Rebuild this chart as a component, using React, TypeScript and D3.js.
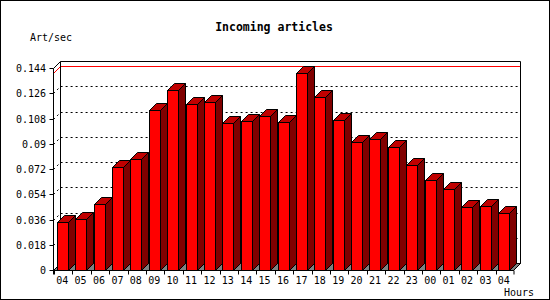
import React from "react";
import * as d3 from "d3";

const hours = ["04","05","06","07","08","09","10","11","12","13","14","15","16","17","18","19","20","21","22","23","00","01","02","03","04"];
const rates = [0.034,0.0361,0.0468,0.0734,0.0789,0.1141,0.1283,0.1181,0.1196,0.1048,0.1062,0.1098,0.1055,0.1402,0.1231,0.1069,0.091,0.0932,0.0875,0.0746,0.0639,0.0575,0.0447,0.0454,0.0404];
const yTicks = [0,0.018,0.036,0.054,0.072,0.09,0.108,0.126,0.144];
const yTickLabels = ["0","0.018","0.036","0.054","0.072","0.09","0.108","0.126","0.144"];

const W = 550, H = 300;
const FX0 = 53.5, FX1 = 513.5, FY0 = 270.5, FTOP = 68.5, D = 7;
const MONO = "'DejaVu Sans Mono', monospace";

export default function App() {
  const x = d3.scaleBand<number>().domain(d3.range(hours.length)).range([54, 514]).paddingInner(0).paddingOuter(0);
  const y = d3.scaleLinear().domain([0, 0.144]).range([270, 68]);
  const bw = x.bandwidth();
  const maxV = d3.max(rates) as number;
  const yMax = Math.round(y(maxV)) + 0.5;

  const bars = rates.map((v, i) => {
    const x0 = Math.round((x(i) as number) + 2.7) + 0.5;
    const x1 = x0 + 11;
    const yt = Math.round(y(v)) + 0.5;
    return { x0, x1, yt, i };
  });

  return (
    <svg width={W} height={H} style={{ position: "absolute", left: 0, top: 0, background: "#fff" }}>
      <rect x={0.5} y={0.5} width={W - 1} height={H - 1} fill="#fff" stroke="#000" />
      <text x={274} y={27} textAnchor="middle" dominantBaseline="central" fontFamily={MONO} fontWeight="bold" fontSize={11.5}>Incoming articles</text>
      <text x={30} y={37} dominantBaseline="central" fontFamily={MONO} fontSize={10}>Art/sec</text>
      <text x={504} y={292} dominantBaseline="central" fontFamily={MONO} fontSize={10}>Hours</text>

      {/* floor */}
      <polygon points={`${FX0},${FY0} ${FX0 + D},${FY0 - D} ${FX1 + D},${FY0 - D} ${FX1},${FY0}`} fill="#808080" stroke="#000" />

      {/* grid lines */}
      {yTicks.slice(1, -1).map((t, k) => {
        const yy = Math.round(y(t)) + 0.5;
        return (
          <path key={k} d={`M${FX0},${yy}L${FX0 + D},${yy - D}L${FX1 + D},${yy - D}`} fill="none" stroke="#000" strokeDasharray="2,3" />
        );
      })}
      {/* max line */}
      <path d={`M${FX0},${yMax}L${FX0 + D},${yMax - D}L${FX1 + D},${yMax - D}`} fill="none" stroke="#ff0000" />

      {/* frame */}
      <path d={`M${FX0},${FTOP}L${FX0 + D},${FTOP - D}L${FX1 + D},${FTOP - D}L${FX1 + D},${FY0 - D}L${FX1},${FY0}`} fill="none" stroke="#000" />
      <path d={`M${FX0 + D},${FTOP - D}L${FX0 + D},${FY0 - D}`} fill="none" stroke="#000" />

      {/* bars */}
      {bars.map(b => (
        <g key={b.i} stroke="#000" strokeLinejoin="miter">
          <polygon points={`${b.x1},${b.yt} ${b.x1 + D},${b.yt - D} ${b.x1 + D},${FY0 - D} ${b.x1},${FY0}`} fill="#800000" />
          <polygon points={`${b.x0},${b.yt} ${b.x0 + D},${b.yt - D} ${b.x1 + D},${b.yt - D} ${b.x1},${b.yt}`} fill="#c00000" />
          <rect x={b.x0} y={b.yt} width={11} height={FY0 - b.yt} fill="#ff0000" />
        </g>
      ))}

      {/* axes */}
      <line x1={FX0} y1={FTOP} x2={FX0} y2={FY0 + 4} stroke="#000" />
      <line x1={FX0} y1={FY0} x2={FX1} y2={FY0} stroke="#000" />
      {yTicks.map((t, k) => {
        const yy = Math.round(y(t)) + 0.5;
        return (
          <g key={k}>
            <line x1={FX0 - 4} y1={yy} x2={FX0} y2={yy} stroke="#000" />
            <text x={46} y={yy} textAnchor="end" dominantBaseline="central" fontFamily={MONO} fontSize={10}>{yTickLabels[k]}</text>
          </g>
        );
      })}
      {hours.map((h, i) => {
        const xx = Math.round((x(i) as number)) + 0.5;
        return (
          <g key={i}>
            <line x1={xx} y1={FY0} x2={xx} y2={FY0 + 4} stroke="#000" />
            <text x={(x(i) as number) + bw / 2 - 1} y={280} textAnchor="middle" dominantBaseline="central" fontFamily={MONO} fontSize={10}>{h}</text>
          </g>
        );
      })}
      <line x1={FX1 + 0.5} y1={FY0} x2={FX1 + 0.5} y2={FY0 + 4} stroke="#000" />
    </svg>
  );
}
